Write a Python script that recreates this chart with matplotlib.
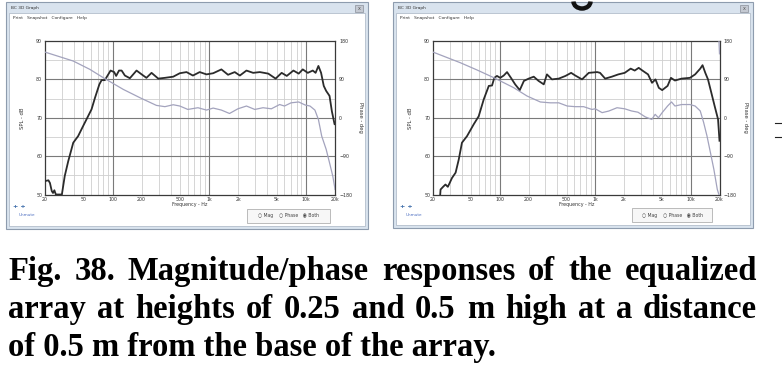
import numpy as np
import matplotlib
matplotlib.use("Agg")
import matplotlib.pyplot as plt
from matplotlib.patches import Rectangle, Arc

# ---------------- data ----------------
freq_ticks = [20, 50, 100, 200, 500, 1000, 2000, 5000, 10000, 20000]
freq_tick_labels = ["20", "50", "100", "200", "500", "1k", "2k", "5k", "10k", "20k"]
spl_ticks = [50, 60, 70, 80, 90]
phase_ticks = [-180, -90, 0, 90, 180]

L_freq = [20, 21.7, 22.5, 23.5, 24.2, 25.0, 25.9, 29.9, 32.0, 34.8, 39.2, 44.0, 49.5, 55.8, 60.6,
          65.8, 73.0, 77.0, 83.2, 90.3, 95.4, 103.9, 108.9, 116.6, 124.1, 134.1, 151, 177, 200,
          224, 253, 297, 348, 424, 496, 582, 678, 797, 937, 1098, 1336, 1565, 1836, 2074, 2427,
          2846, 3337, 4080, 4860, 5610, 6340, 7430, 8420, 9280, 10460, 11780, 12600, 13470,
          14360, 15300, 16200, 17560, 18560, 19800, 20000]
L_spl = [53.5, 53.7, 53.0, 50.9, 50.4, 51.1, 50.0, 50.0, 54.8, 58.7, 63.5, 65.2, 67.8, 70.4, 72.2,
         75.2, 78.7, 79.8, 79.8, 81.3, 82.3, 81.9, 80.9, 82.3, 82.3, 81.0, 80.3, 82.3, 81.3,
         80.4, 81.7, 80.2, 80.4, 80.7, 81.6, 81.9, 81.0, 81.9, 81.3, 81.6, 82.6, 81.2, 81.9, 81.0, 82.3,
         81.7, 81.9, 81.5, 80.2, 81.7, 80.9, 82.3, 81.5, 82.6, 81.7, 82.3, 81.7, 83.5,
         81.7, 78.3, 77.0, 75.7, 71.7, 68.3, 68.3]

L_pfreq = [20, 39.2, 58.2, 80.1, 129, 192, 284, 348, 424, 496, 601, 764, 937, 1098, 1336, 1621,
           1980, 2427, 2960, 3600, 4390, 5350, 6000, 7020, 8420, 9800, 11020, 12390, 13470,
           14570, 16200, 17560, 18980, 19900, 20000]
L_phase = [154, 133, 113.5, 94, 66.5, 47, 29, 26, 30.5, 27.5, 19.5, 23.5, 18, 22.7, 18, 10,
           21, 27.5, 19.5, 23.5, 21, 31, 27.5, 35, 37, 30, 27.5, 18, -4,
           -43, -74, -105.6, -137, -164, -168]

R_freq = [23.8, 24.0, 25.5, 27.0, 28.6, 29.9, 31.6, 34.5, 37.2, 40.2, 45.4, 53.4, 60.2, 68.0, 76.8,
          83.0, 87.7, 93.5, 101.2, 110, 119.2, 131, 145, 162, 179, 201, 227, 255, 289, 312, 352,
          415, 488, 559, 618, 727, 855, 1048, 1123, 1270, 1490, 1745, 2035, 2350, 2590, 2850,
          3160, 3570, 3930, 4270, 4630, 5020, 5720, 6200, 6830, 8030, 9820, 11110, 12570, 13290,
          14200, 15150, 16430, 17810, 19310, 20000]
R_spl = [50, 51.3, 52, 52.6, 52, 53, 54.3, 55.7, 59.1, 63.5, 65.2, 68.3, 70.4, 74.8, 78.3,
         78.4, 80.4, 80.9, 80.4, 81.0, 81.9, 80.4, 78.7, 77.2, 79.6, 80.2, 80.7, 79.6, 78.7, 81.3, 80,
         80.2, 80.9, 81.7, 81.0, 80, 81.7, 81.9, 81.7, 80.2, 80.7, 81.3, 81.7, 82.8, 82.3, 83,
         82.2, 81.3, 79.1, 80, 77.8, 77.2, 78.3, 80.4, 79.7, 80.2, 80.4, 81.3, 82.8, 83.7,
         81.7, 80, 76.5, 73, 69.6, 64]

R_pfreq = [20, 38.7, 57.9, 86.6, 140, 193, 266, 338, 415, 509, 618, 755, 922, 1000, 1180, 1385,
           1690, 2035, 2390, 2800, 3340, 3910, 4240, 4590, 5020, 5720, 6290, 6830, 8030, 9820,
           11110, 12570, 13640, 14800, 16080, 17460, 18960, 19700, 19710, 19750, 20000]
R_phase = [154, 129, 112, 94, 70.5, 51, 37, 35, 35, 27.5, 26, 26, 19.5, 21, 12, 15.7,
           23.5, 21, 16, 13, 2, -4, 8, 0, 12, 27.5, 37, 27.5, 31, 31,
           27.5, 16, -11, -43, -82, -121, -168, -180, np.nan, 180, 150]

caption_lines = ["Fig. 38. Magnitude/phase responses of the equalized",
                 "array at heights of 0.25 and 0.5 m high at a distance",
                 "of 0.5 m from the base of the array."]

# ---------------- figure ----------------
W, H = 782, 391
fig = plt.figure(figsize=(W / 100, H / 100), dpi=100)
bg = fig.add_axes([0, 0, 1, 1])
bg.set_xlim(0, W)
bg.set_ylim(H, 0)
bg.axis('off')

def fbox(x0, y0, x1, y1):
    return [x0 / W, 1 - y1 / H, (x1 - x0) / W, (y1 - y0) / H]

SMALL = 3.4
FRAME = '#d9e3ee'

def window(x0, y0, x1, y1):
    bg.add_patch(Rectangle((x0, y0), x1 - x0, y1 - y0, fc=FRAME, ec='#8e9cae', lw=0.8))
    bg.add_patch(Rectangle((x0 + 3, y0 + 11), x1 - x0 - 6, y1 - y0 - 14, fc='white',
                           ec='#a8b4c3', lw=0.5))
    bg.text(x0 + 5, y0 + 6, 'BC 3D Graph', fontsize=3.2, va='center', color='#333333')
    bg.text(x0 + 7, y0 + 16, 'Print   Snapshot   Configure   Help', fontsize=3.2,
            va='center', color='#333333')
    bg.add_patch(Rectangle((x1 - 13, y0 + 2.5), 8, 7, fc='#c4c9d2', ec='#8a909a', lw=0.5))
    bg.text(x1 - 9, y0 + 6, 'x', fontsize=3.5, ha='center', va='center', color='#555555')

def radio_box(x0, y0, x1, y1):
    bg.add_patch(Rectangle((x0, y0), x1 - x0, y1 - y0, fc='#f7f7f7', ec='#b0b0b0', lw=0.6))
    bg.text((x0 + x1) / 2, (y0 + y1) / 2, '\u25cb Mag    \u25cb Phase   \u25c9 Both',
            fontsize=3.3, ha='center', va='center', color='#444444')

def extras(x0, y0):
    bg.text(x0, y0, '+ +', fontsize=4.5, color='#3a6aa8', weight='bold', va='center')
    bg.text(x0 + 6, y0 + 8, 'Unmute', fontsize=3.0, color='#4a6cc0', va='center')

def make_plot(rect, freq, spl, pfreq, phase):
    ax = fig.add_axes(fbox(*rect))
    ax.set_xscale('log')
    ax.set_xlim(20, 20000)
    ax.set_ylim(50, 90)
    for dec in (10, 100, 1000, 10000):
        for m in range(2, 10):
            f = m * dec
            if 20 < f < 20000:
                ax.axvline(f, color='#cfcfcf', lw=0.6, zorder=0)
    for f in (100, 1000, 10000):
        ax.axvline(f, color='#7a7a7a', lw=0.8, zorder=0.5)
    for v in (55, 65, 75, 85):
        ax.axhline(v, color='#cfcfcf', lw=0.6, zorder=0)
    for v in (60, 70, 80):
        ax.axhline(v, color='#7a7a7a', lw=0.8, zorder=0.5)
    ax.plot(freq, spl, color='#2b2b2b', lw=1.3, zorder=3, clip_on=True)
    ax.set_xticks(freq_ticks)
    ax.set_xticklabels(freq_tick_labels)
    ax.xaxis.set_minor_locator(matplotlib.ticker.NullLocator())
    ax.set_yticks(spl_ticks)
    ax.tick_params(length=0, labelsize=SMALL, pad=2, colors='#333333')
    ax.set_xlabel('Frequency - Hz', fontsize=SMALL, labelpad=0, color='#333333')
    ax.set_ylabel('SPL - dB', fontsize=SMALL + 0.4, labelpad=8, color='#333333')
    for s in ax.spines.values():
        s.set_color('#3a3a3a')
        s.set_linewidth(0.9)
    ax2 = ax.twinx()
    ax2.set_ylim(-180, 180)
    ax2.plot(pfreq, phase, color='#a3a3bd', lw=0.9, zorder=2)
    ax2.set_yticks(phase_ticks)
    ax2.tick_params(length=0, labelsize=SMALL, pad=3, colors='#333333')
    ax2.set_ylabel('Phase - deg', fontsize=SMALL + 0.4, rotation=270, labelpad=8,
                   color='#333333')
    for s in ax2.spines.values():
        s.set_visible(False)
    return ax

# left window
window(6, 2, 368, 229)
make_plot((45, 41, 335, 194.5), L_freq, L_spl, L_pfreq, L_phase)
radio_box(247, 209, 330, 223)
extras(13, 207)

# right window
window(393, 2, 753, 228)
make_plot((433, 41, 719.5, 194.5), R_freq, R_spl, R_pfreq, R_phase)
radio_box(632, 208, 712, 222)
extras(400, 207)

# stray marks from the page (scan artefacts): bottom of a heading glyph, edge dashes
bg.add_patch(Arc((582, 1.5), 17, 14, theta1=0, theta2=180, color='#111111', lw=3.2, zorder=5))
bg.plot([775, 782], [123, 123], color='#222222', lw=0.8)
bg.plot([775, 782], [137, 137], color='#222222', lw=0.8)

# ---------------- caption (justified) ----------------
renderer = fig.canvas.get_renderer()
FONT = dict(family='Liberation Serif', weight='bold')

def text_width(s, size):
    t = fig.text(0, 0, s, fontsize=size, **FONT)
    w = t.get_window_extent(renderer).width
    t.remove()
    return w

base_size = 20
w3 = text_width(caption_lines[2], base_size)
size = base_size * 489.0 / w3

x_left, x_right = 8, 757
baselines = [280, 318, 356]
for i, line in enumerate(caption_lines):
    words = line.split(' ')
    y = baselines[i]
    if i < 2:
        widths = [text_width(w, size) for w in words]
        gap = (x_right - x_left - sum(widths)) / (len(words) - 1)
        x = x_left
        for w, ww in zip(words, widths):
            bg.text(x, y, w, fontsize=size, va='baseline', ha='left', color='black', **FONT)
            x += ww + gap
    else:
        bg.text(x_left, y, line, fontsize=size, va='baseline', ha='left', color='black', **FONT)

fig.savefig('out.png', dpi=100)
